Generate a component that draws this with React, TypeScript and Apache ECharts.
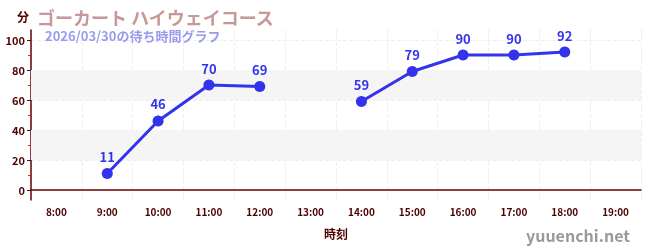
import React, { useEffect, useRef } from "react";
import * as echarts from "echarts";

const categories = ["8:00", "9:00", "10:00", "11:00", "12:00", "13:00", "14:00", "15:00", "16:00", "17:00", "18:00", "19:00"];
const waitTimes: (number | null)[] = [null, 11, 46, 70, 69, null, 59, 79, 90, 90, 92, null];
const yMajorTicks = [0, 20, 40, 60, 80, 100];
const yMinorTicks = [10, 30, 50, 70, 90];
const shadedBands: [number, number][] = [[20, 40], [60, 80]];

const FONT = "'Noto Sans CJK JP', 'Noto Sans', sans-serif";

export default function App() {
  const ref = useRef<HTMLDivElement>(null);
  useEffect(() => {
    if (!ref.current) return;
    const chart = echarts.init(ref.current, undefined, { renderer: "svg" });
    chart.setOption({
      animation: false,
      textStyle: { fontFamily: FONT },
      title: [
        {
          text: "ゴーカート ハイウェイコース",
          left: 32,
          top: 3,
          textStyle: { fontSize: 18, fontWeight: "bold", color: "#c89898", fontFamily: FONT },
        },
        {
          text: "2026/03/30の待ち時間グラフ",
          left: 40,
          top: 24,
          textStyle: { fontSize: 13, fontWeight: "bold", color: "#9a9aee", fontFamily: FONT },
        },
        {
          text: "yuuenchi.net",
          right: 15,
          top: 222,
          textStyle: { fontSize: 16, fontWeight: "bold", color: "#999999", fontFamily: FONT },
        },
      ],
      grid: { left: 31, right: 9, top: 30, bottom: 50 },
      xAxis: {
        type: "category",
        data: categories,
        boundaryGap: true,
        name: "時刻",
        nameLocation: "middle",
        nameGap: 27,
        nameTextStyle: { color: "#4d0000", fontSize: 12, fontWeight: "bold", fontFamily: FONT },
        axisLine: { lineStyle: { color: "#660000", width: 1.5 } },
        axisTick: { alignWithLabel: true, length: 3, inside: true, lineStyle: { color: "#888888", width: 2 } },
        axisLabel: { color: "#4d0000", fontSize: 10, fontWeight: "bold", margin: 6 },
        splitLine: { show: true, interval: 0, lineStyle: { color: "#eeeeee", type: "dashed" } },
      },
      yAxis: [
        {
          type: "value",
          position: "left",
          min: -6.67,
          max: 106.67,
          name: "分",
          nameLocation: "end",
          nameGap: 8,
          nameTextStyle: { color: "#4d0000", fontSize: 12, fontWeight: "bold", align: "right", padding: [0, 2, 0, 0] },
          axisLine: { show: true, lineStyle: { color: "#660000", width: 1.5 } },
          axisTick: { show: true, customValues: yMajorTicks, length: 4, lineStyle: { color: "#222222" } },
          axisLabel: { customValues: yMajorTicks, color: "#4d0000", fontSize: 11, fontWeight: "bold", margin: 6 },
          splitLine: { show: true, lineStyle: { color: "#eeeeee", type: "dashed" } },
        },
        {
          type: "value",
          position: "left",
          offset: 0,
          min: -6.67,
          max: 106.67,
          axisLine: { show: false },
          axisTick: { show: true, customValues: yMinorTicks, length: 3, lineStyle: { color: "#dd2222" } },
          axisLabel: { show: false },
          splitLine: { show: false },
        },
      ],
      series: [
        {
          type: "line",
          data: waitTimes,
          yAxisIndex: 0,
          connectNulls: false,
          symbol: "circle",
          symbolSize: 11,
          itemStyle: { color: "#3333ee" },
          lineStyle: { color: "#3333ee", width: 3 },
          label: { show: true, position: "top", distance: 5, color: "#3333ee", fontSize: 13, fontWeight: "bold" },
          markArea: {
            silent: true,
            itemStyle: { color: "#f5f5f5" },
            data: shadedBands.map(([a, b]) => [{ yAxis: a }, { yAxis: b }]),
          },
          z: 3,
        },
      ],
    });
    return () => chart.dispose();
  }, []);
  return <div ref={ref} style={{ position: "fixed", left: 0, top: 0, width: 650, height: 250 }} />;
}
